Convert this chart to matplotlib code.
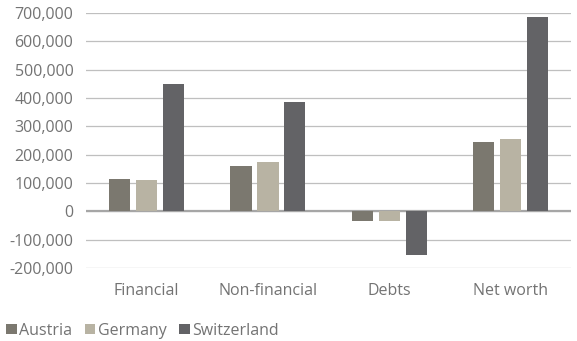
import matplotlib
matplotlib.use("Agg")
import matplotlib.pyplot as plt
import numpy as np
from matplotlib.ticker import FuncFormatter

categories = ["Financial", "Non-financial", "Debts", "Net worth"]
countries = ["Austria", "Germany", "Switzerland"]
austria = [114000, 161000, -34000, 245000]
germany = [111000, 175000, -34000, 254000]
switzerland = [448000, 386000, -154000, 684000]
colors = ["#7b786f", "#b8b3a3", "#636366"]

plt.rcParams["font.family"] = ["Open Sans", "DejaVu Sans"]
text_color = "#737373"

fig = plt.figure(figsize=(5.77, 3.41), dpi=100)
ax = fig.add_axes([0.149, 0.214, 0.841, 0.748])

xs = np.arange(len(categories))
width = 0.175
step = 0.222
for i, (name, vals) in enumerate(zip(countries, [austria, germany, switzerland])):
    ax.bar(xs + (i - 1) * step, vals, width=width, color=colors[i], label=name,
           zorder=3)

ax.set_xlim(-0.5, len(categories) - 0.5)
ax.set_ylim(-200000, 700000)
ax.set_yticks(np.arange(-200000, 700001, 100000))
ax.yaxis.set_major_formatter(FuncFormatter(lambda v, _: f"{int(v):,}"))
ax.set_xticks(xs, categories)

ax.grid(axis="y", color="#bfbfbf", linewidth=0.9, zorder=0)
ax.axhline(0, color="#a6a6a6", linewidth=1.6, zorder=2)
for s in ax.spines.values():
    s.set_visible(False)
ax.tick_params(axis="both", length=0, colors=text_color, labelsize=11.5)
ax.tick_params(axis="y", pad=9)
ax.tick_params(axis="x", pad=11)

leg = fig.legend(loc="lower left", bbox_to_anchor=(0.0, -0.012), ncol=3, frameon=False,
                 fontsize=11.5, handlelength=0.65, handleheight=0.65,
                 handletextpad=0.15, columnspacing=0.8, borderaxespad=0.0)
for t in leg.get_texts():
    t.set_color(text_color)

fig.savefig("out.png", dpi=100)
